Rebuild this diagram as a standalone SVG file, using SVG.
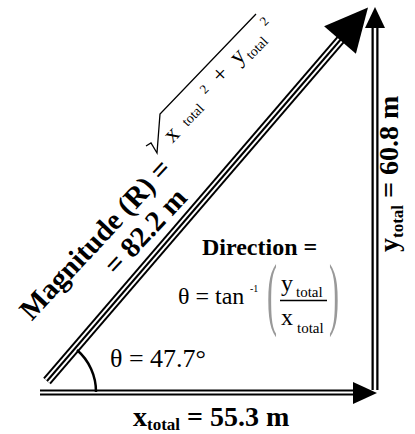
<svg xmlns="http://www.w3.org/2000/svg" width="415" height="434" viewBox="0 0 415 434">
<style>
.bk{stroke:#000;fill:none;stroke-linecap:butt}
.wh{stroke:#fff;fill:none;stroke-linecap:butt}
.head{fill:#000;stroke:none}
.sb{font-family:"Liberation Serif","Times New Roman",serif;font-weight:bold;fill:#000}
.sr{font-family:"Liberation Serif","Times New Roman",serif;fill:#000}
.par{font-family:"Liberation Serif","Times New Roman",serif;fill:#999}
</style>
<rect width="415" height="434" fill="#fff"/>
<g id="connectors">
  <line class="bk" x1="47" y1="381" x2="342" y2="38" stroke-width="10"/>
  <line class="wh" x1="47" y1="381" x2="342" y2="38" stroke-width="6"/>
  <line class="bk" x1="47" y1="381" x2="342" y2="38" stroke-width="2"/>
  <polygon class="head" points="368,7.4 355.9,53.7 324.1,26.3"/>
  <line class="bk" x1="40" y1="392.5" x2="356" y2="392.5" stroke-width="6"/>
  <line class="wh" x1="40" y1="392.5" x2="356" y2="392.5" stroke-width="2"/>
  <polygon class="head" points="377,393 353,382 353,404"/>
  <line class="bk" x1="375" y1="390" x2="375" y2="26" stroke-width="7"/>
  <line class="wh" x1="375" y1="390" x2="375" y2="26" stroke-width="2.5"/>
  <polygon class="head" points="375,7 365,28 385,28"/>
  <path class="bk" d="M 77 350 A 55 55 0 0 1 96 392" stroke-width="2.5"/>
</g>
<g id="magnitude">
  <text class="sb" font-size="29" text-anchor="middle" dominant-baseline="central" transform="translate(95,239) rotate(-47)">Magnitude (R) =</text>
  <path class="bk" stroke-width="1.3" d="M 146 146 L 151 143 L 157 153 L 160 114 L 256 14"/>
  <text class="sr" font-size="24" text-anchor="middle" dominant-baseline="central" transform="translate(171,134) rotate(-46)">x</text>
  <text class="sr" font-size="14" text-anchor="middle" dominant-baseline="central" transform="translate(193,115) rotate(-46)">total</text>
  <text class="sr" font-size="13" text-anchor="middle" dominant-baseline="central" transform="translate(204,89) rotate(-46)">2</text>
  <text class="sr" font-size="24" text-anchor="middle" dominant-baseline="central" transform="translate(220,74) rotate(-46)">+</text>
  <text class="sr" font-size="24" text-anchor="middle" dominant-baseline="central" transform="translate(237,56) rotate(-46)">y</text>
  <text class="sr" font-size="14" text-anchor="middle" dominant-baseline="central" transform="translate(257,48) rotate(-46)">total</text>
  <text class="sr" font-size="13" text-anchor="middle" dominant-baseline="central" transform="translate(264,21) rotate(-46)">2</text>
  <text class="sb" font-size="29" text-anchor="middle" dominant-baseline="central" transform="translate(145,231) rotate(-47)">= 82.2 m</text>
</g>
<g id="direction">
  <text class="sb" font-size="24" x="202" y="255">Direction =</text>
  <text class="sr" font-size="24" x="178" y="304">θ = tan</text>
  <text class="sr" font-size="10" x="250" y="292">-1</text>
  <text class="par" font-size="30" transform="translate(267,320) scale(1,2.7)">(</text>
  <text class="par" font-size="30" transform="translate(329,320) scale(1,2.7)">)</text>
  <text class="sr" font-size="24" x="281" y="291">y</text>
  <text class="sr" font-size="15" x="296" y="297">total</text>
  <line class="bk" x1="280" y1="300.5" x2="327" y2="300.5" stroke-width="1.5"/>
  <text class="sr" font-size="24" x="281" y="325">x</text>
  <text class="sr" font-size="15" x="297" y="333">total</text>
</g>
<g id="angle">
  <text class="sr" font-size="26" x="110" y="367">θ = 47.7°</text>
</g>
<g id="x-total">
  <text class="sb" font-size="28" x="133" y="426">x<tspan font-size="17" dy="4">total</tspan><tspan dy="-4"> = 55.3 m</tspan></text>
</g>
<g id="y-total">
  <text class="sb" font-size="28" transform="translate(398,252) rotate(-90)">y<tspan font-size="17" dy="5">total</tspan><tspan dy="-5"> = 60.8 m</tspan></text>
</g>
</svg>
